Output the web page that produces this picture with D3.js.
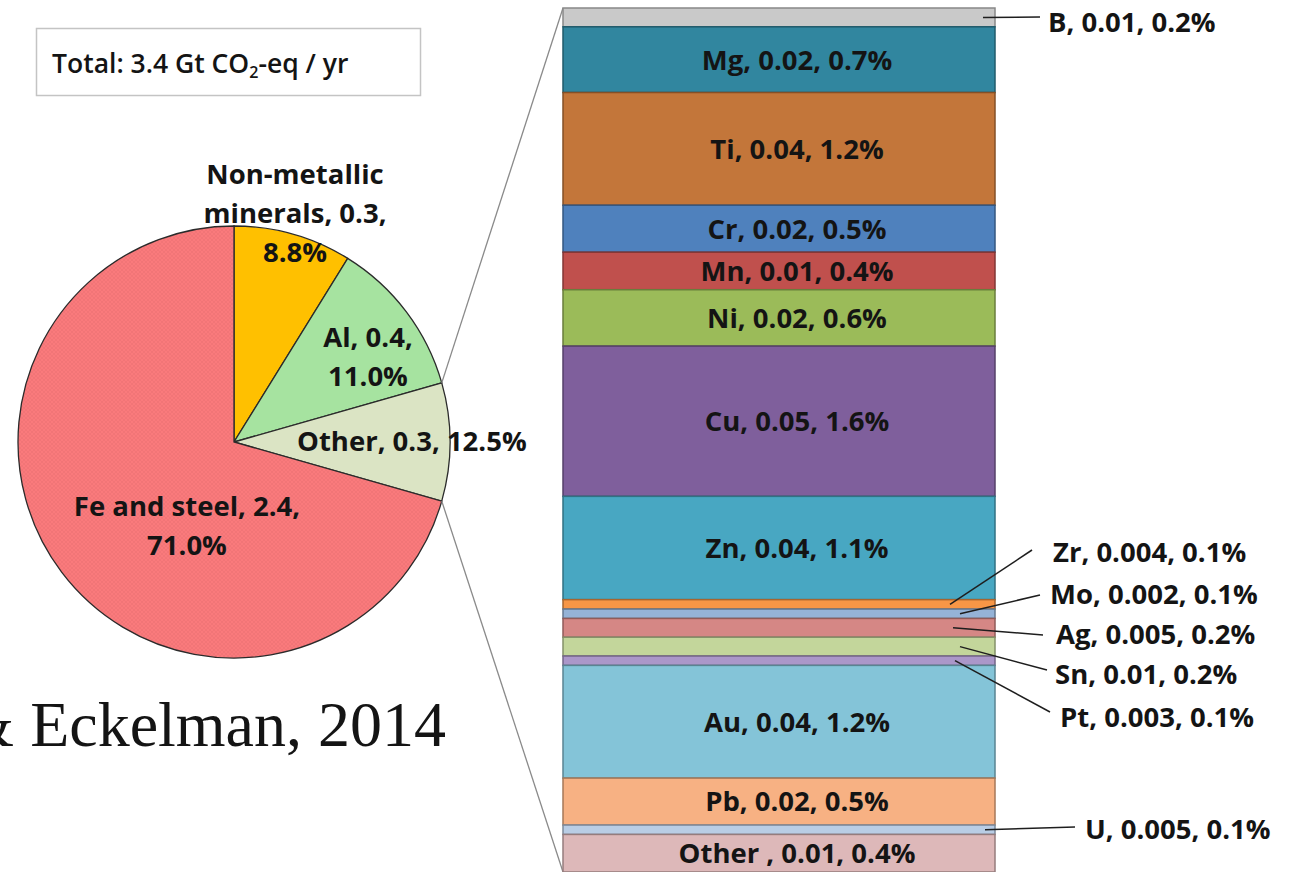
<!DOCTYPE html>
<html>
<head>
<meta charset="utf-8">
<script src="https://cdn.jsdelivr.net/npm/d3@7"></script>
<style>
  html, body { margin: 0; padding: 0; background: #fff; overflow: hidden; }
  svg { display: block; }
  text { font-family: "Open Sans", Lato, sans-serif; font-weight: 700; fill: #141414; }
</style>
</head>
<body>
<svg id="chart" width="1291" height="872"></svg>
<script>
// Material groups: emissions in Gt CO2-eq / yr and share of total
const pieNames  = ["Non-metallic minerals", "Al", "Other", "Fe and steel"];
const pieValues = [0.3, 0.4, 0.3, 2.4];
const pieShares = ["8.8%", "11.0%", "12.5%", "71.0%"];
const pieColors = ["#ffc000", "#a6e3a0", "#dbe4c4", "#fa7a7c"];

// Breakdown of the "Other" group by metal
const barNames  = ["B", "Mg", "Ti", "Cr", "Mn", "Ni", "Cu", "Zn", "Zr", "Mo", "Ag", "Sn", "Pt", "Au", "Pb", "U", "Other "];
const barValues = ["0.01", "0.02", "0.04", "0.02", "0.01", "0.02", "0.05", "0.04", "0.004", "0.002", "0.005", "0.01", "0.003", "0.04", "0.02", "0.005", "0.01"];
const barShares = [0.2, 0.7, 1.2, 0.5, 0.4, 0.6, 1.6, 1.1, 0.1, 0.1, 0.2, 0.2, 0.1, 1.2, 0.5, 0.1, 0.4];
const barColors = ["#c9c9c9", "#31869f", "#c3763a", "#4f81bd", "#c0504d", "#9bbb59", "#7f5f9c", "#48a7c2",
                   "#f79646", "#95b3d7", "#d58785", "#c3d69b", "#ab97c9", "#84c4d8", "#f7b183", "#b9cde5", "#ddb8b9"];

const totalLabel = "Total: 3.4 Gt CO";
const citation = "& Eckelman, 2014";

const FS = 27.5; // label font size

const svg = d3.select("#chart");

// fine cross-hatch texture used on the largest slice
const defs = svg.append("defs");
const pat = defs.append("pattern").attr("id", "hatch").attr("patternUnits", "userSpaceOnUse")
  .attr("width", 4).attr("height", 4);
pat.append("rect").attr("width", 4).attr("height", 4).attr("fill", "#fa7a7c");
pat.append("path").attr("d", "M0,4 L4,0 M0,0 L4,4").attr("stroke", "#c85a5e")
  .attr("stroke-width", 0.5).attr("stroke-opacity", 0.35);

// ---------- title box ----------
svg.append("rect")
  .attr("x", 36.5).attr("y", 28.5).attr("width", 384).attr("height", 67)
  .attr("fill", "#fff").attr("stroke", "#c4c4c4").attr("stroke-width", 1.5);
const tt = svg.append("text").attr("x", 52).attr("y", 73).attr("font-size", 26.5).style("font-weight", 600);
tt.append("tspan").text(totalLabel);
tt.append("tspan").attr("font-size", 16).attr("dy", 5).text("2");
tt.append("tspan").attr("dy", -5).text("-eq / yr");

// ---------- pie ----------
const cx = 234, cy = 442, R = 216;
const pie = d3.pie().sort(null).value(d => d)(pieValues);
const arc = d3.arc().innerRadius(0).outerRadius(R);
const pg = svg.append("g").attr("transform", `translate(${cx},${cy})`);
pg.selectAll("path").data(pie).join("path")
  .attr("d", arc)
  .attr("fill", (d, i) => i === 3 ? "url(#hatch)" : pieColors[i])
  .attr("stroke", "#2b2b2b").attr("stroke-width", 1.3);

// ---------- bar (stacked breakdown) ----------
const barX0 = 563, barX1 = 995;
const cum = [0, ...d3.cumsum(barShares)];
const y = d3.scaleLinear().domain([0, d3.sum(barShares)]).range([8, 872]);

// connector lines from the "Other" slice to the bar
const other = pie[2];
const edgePt = a => [cx + R * Math.sin(a), cy - R * Math.cos(a)];
const [sx0, sy0] = edgePt(other.startAngle);
const [sx1, sy1] = edgePt(other.endAngle);
svg.append("line").attr("x1", sx0).attr("y1", sy0).attr("x2", barX0).attr("y2", y(0))
  .attr("stroke", "#8a8a8a").attr("stroke-width", 1.3);
svg.append("line").attr("x1", sx1).attr("y1", sy1).attr("x2", barX0).attr("y2", y(cum[cum.length - 1]))
  .attr("stroke", "#8a8a8a").attr("stroke-width", 1.3);

svg.append("g").selectAll("rect").data(barShares).join("rect")
  .attr("x", barX0).attr("width", barX1 - barX0)
  .attr("y", (d, i) => y(cum[i]))
  .attr("height", (d, i) => y(cum[i + 1]) - y(cum[i]))
  .attr("fill", (d, i) => barColors[i])
  .attr("stroke", (d, i) => d3.color(barColors[i]).darker(1.1))
  .attr("stroke-width", 1.5);

const labelOf = i => `${barNames[i]}, ${barValues[i]}, ${barShares[i].toFixed(1)}%`;

// labels placed outside the bar, with leader lines
const outside = {
  "B":  { tx: 1048, ty: 32,  lx: 983, ex: 1040, ey: 17 },
  "Zr": { tx: 1053, ty: 562, lx: 950, ex: 1032, ey: 550 },
  "Mo": { tx: 1050, ty: 604, lx: 960, ex: 1040, ey: 595 },
  "Ag": { tx: 1056, ty: 644, lx: 953, ex: 1043, ey: 635 },
  "Sn": { tx: 1055, ty: 684, lx: 960, ex: 1047, ey: 670 },
  "Pt": { tx: 1060, ty: 727, lx: 955, ex: 1050, ey: 712 },
  "U":  { tx: 1085, ty: 839, lx: 985, ex: 1075, ey: 827 }
};

barNames.forEach((n, i) => {
  const mid = (y(cum[i]) + y(cum[i + 1])) / 2;
  const o = outside[n];
  if (o) {
    svg.append("line").attr("x1", o.lx).attr("y1", mid).attr("x2", o.ex).attr("y2", o.ey)
      .attr("stroke", "#1e1e1e").attr("stroke-width", 1.5);
    svg.append("text").attr("x", o.tx).attr("y", o.ty).attr("font-size", FS).text(labelOf(i));
  } else {
    svg.append("text").attr("x", 797).attr("y", mid).attr("dy", "0.36em")
      .attr("text-anchor", "middle").attr("font-size", FS).text(labelOf(i));
  }
});

// ---------- pie labels ----------
const pieLabelLines = [
  ["Non-metallic", `minerals, ${pieValues[0]},`, pieShares[0]],
  [`${pieNames[1]}, ${pieValues[1]},`, pieShares[1]],
  [`${pieNames[2]}, ${pieValues[2]}, ${pieShares[2]}`],
  [`${pieNames[3]}, ${pieValues[3]},`, pieShares[3]]
];
const pieLabelPos = [
  { x: 295, y: 184, anchor: "middle" },
  { x: 368, y: 347, anchor: "middle" },
  { x: 297, y: 451, anchor: "start" },
  { x: 187, y: 516, anchor: "middle" }
];
pieLabelLines.forEach((lines, i) => {
  const p = pieLabelPos[i];
  const t = svg.append("text").attr("x", p.x).attr("y", p.y)
    .attr("text-anchor", p.anchor).attr("font-size", FS);
  lines.forEach((s, k) => t.append("tspan").attr("x", p.x).attr("dy", k === 0 ? 0 : 39).text(s));
});

// ---------- citation ----------
svg.append("text").attr("x", 446).attr("y", 746).attr("text-anchor", "end")
  .style("font-family", "'Liberation Serif', 'Times New Roman', serif")
  .style("font-weight", 400).attr("font-size", 64).attr("fill", "#000")
  .text(citation);
</script>
</body>
</html>
